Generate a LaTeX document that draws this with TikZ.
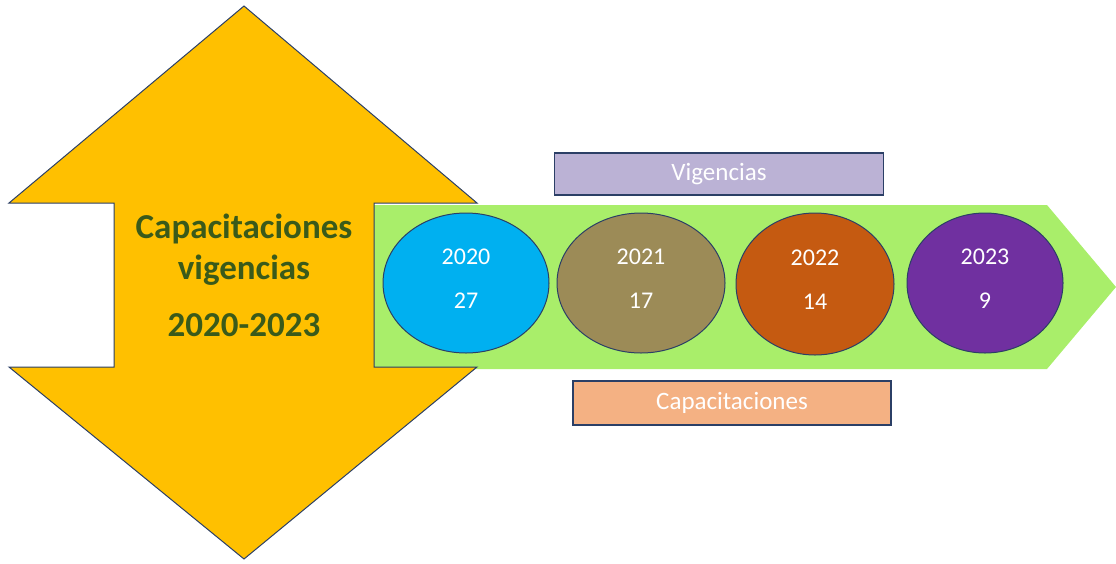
\documentclass[tikz,border=0pt]{standalone}
\usepackage{fontspec}
\setmainfont{Carlito}
\usetikzlibrary{shapes.geometric}

\definecolor{arrowyellow}{HTML}{FFC000}
\definecolor{bandgreen}{HTML}{A9EE6A}
\definecolor{outline}{HTML}{2B3F66}
\definecolor{titlegreen}{HTML}{3A5A1A}
\definecolor{c2020}{HTML}{00B0F0}
\definecolor{c2021}{HTML}{9C8B57}
\definecolor{c2022}{HTML}{C55A11}
\definecolor{c2023}{HTML}{7030A0}
\definecolor{vigfill}{HTML}{BBB2D5}
\definecolor{capfill}{HTML}{F4B183}

\tikzset{
  title/.style={text=titlegreen, font=\fontsize{35}{40}\selectfont\bfseries},
  year/.style={ellipse, draw=outline, line width=1pt, inner sep=0pt,
    text=white, align=center, text depth=8pt,
    font=\fontsize{24}{44}\selectfont},
  label box/.style={draw=outline, line width=1.2pt, inner sep=0pt,
    text=white, font=\fontsize{25}{30}\selectfont}
}

\begin{document}
\begin{tikzpicture}[x=1pt,y=-1pt]
\useasboundingbox (0,0) rectangle (1116,563);

\fill[bandgreen] (374,205) -- (1047,205) -- (1116,287) -- (1047,369)
  -- (374,369) -- cycle;
\draw[outline, fill=arrowyellow, line width=1pt] (244,6) -- (477,203)
  -- (374,203) -- (374,367) -- (477,367) -- (244,559) -- (9,367)
  -- (114,367) -- (114,203) -- (9,203) -- cycle;

\node[title] (cap) at (244,229) {Capacitaciones};
\node[title] (vig) at (244,270) {vigencias};
\node[title] (years) at (244,325) {2020-2023};

\node[year, fill=c2020, minimum width=166, minimum height=140] (y2020) at (466,283) {2020\\27};
\node[year, fill=c2021, minimum width=168, minimum height=140] (y2021) at (641,283) {2021\\17};
\node[year, fill=c2022, minimum width=158, minimum height=142] (y2022) at (815,284) {2022\\14};
\node[year, fill=c2023, minimum width=156, minimum height=140] (y2023) at (985,283) {2023\\9};

\node[label box, fill=vigfill, minimum width=329, minimum height=42] (vigbox) at (719,174) {Vigencias};
\node[label box, fill=capfill, minimum width=318, minimum height=44] (capbox) at (732,403) {Capacitaciones};

\end{tikzpicture}
\end{document}
